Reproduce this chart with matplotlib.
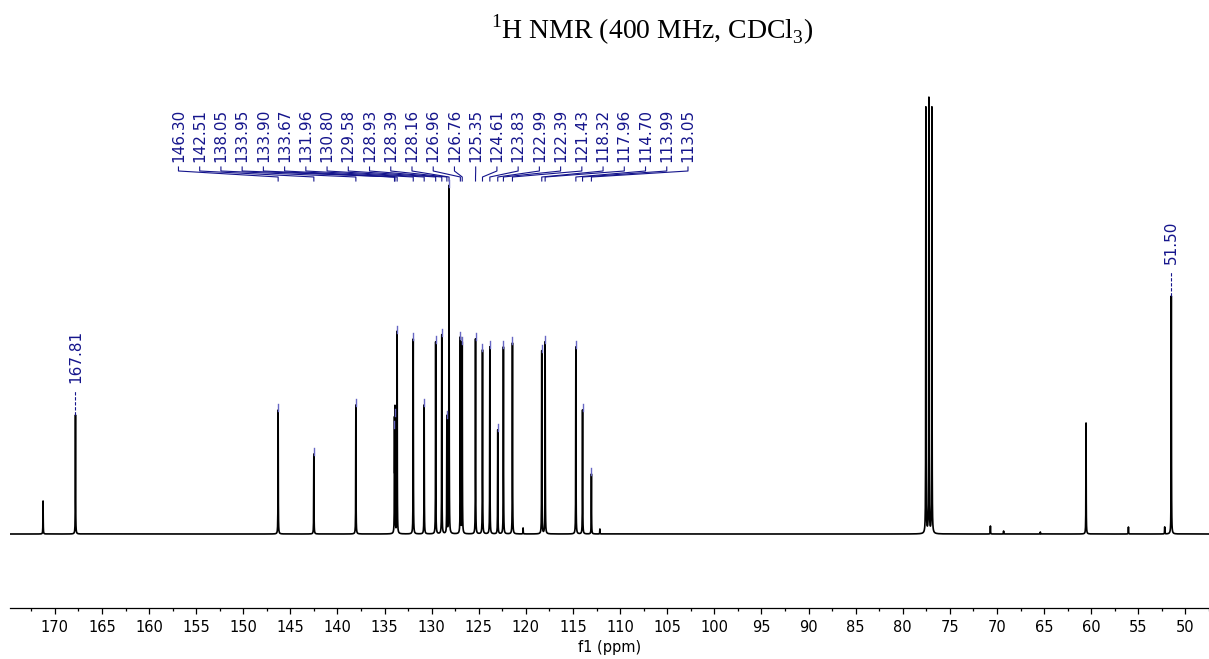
import numpy as np
import matplotlib.pyplot as plt

plt.rcParams['mathtext.fontset'] = 'custom'
plt.rcParams['mathtext.rm'] = 'Liberation Serif'

# peaks: shift (ppm) and height (px above baseline)
shifts = [171.25, 167.81, 146.30, 142.51, 138.05, 133.95, 133.90, 133.67, 131.96,
          130.80, 129.58, 128.93, 128.39, 128.16, 126.96, 126.76, 125.35, 124.61,
          123.83, 122.99, 122.39, 121.43, 120.30, 118.32, 117.96, 114.70, 113.99,
          113.05, 112.15, 77.55, 77.23, 76.91, 70.70, 69.30, 65.40, 60.55, 56.05,
          52.20, 51.50]
heights = [33, 119, 124, 80, 129, 107, 119, 202, 195,
           129, 192, 199, 117, 348, 196, 191, 195, 184,
           187, 104, 187, 191, 6, 183, 192, 187, 124,
           60, 5, 426, 435, 426, 8, 3, 2, 111, 7,
           7, 238]

group_labels = ['146.30', '142.51', '138.05', '133.95', '133.90', '133.67', '131.96',
                '130.80', '129.58', '128.93', '128.39', '128.16', '126.96', '126.76',
                '125.35', '124.61', '123.83', '122.99', '122.39', '121.43', '118.32',
                '117.96', '114.70', '113.99', '113.05']
single_labels = ['167.81', '51.50']

navy = '#15158c'
marker_blue = '#6767c4'

height_of = dict(zip(shifts, heights))

grid = np.sort(np.concatenate([np.linspace(47.0, 175.5, 30000), shifts]))
hw = 0.015
spec = np.zeros_like(grid)
for s, h in zip(shifts, heights):
    spec += h / (1 + ((grid - s) / hw) ** 2)

fig = plt.figure(figsize=(12.09, 6.59), dpi=100)
ax = fig.add_axes([10/1209, 51/659, 1199/1209, 513/659])
ax.plot(grid, spec, color='black', lw=1.2)

ax.set_xlim(174.76, 47.88)
ax.set_ylim(-74, 439)

for sp in ['top', 'left', 'right']:
    ax.spines[sp].set_visible(False)
ax.spines['bottom'].set_linewidth(0.9)
ax.set_yticks([])
ax.set_xticks(np.arange(50, 171, 5))
ax.set_xticks(np.arange(47.5, 175, 2.5), minor=True)
ax.tick_params(axis='x', which='major', length=4.5, width=0.9, labelsize=10.5, pad=4.5)
ax.tick_params(axis='x', which='minor', length=2, width=0.9)
ax.set_xlabel('f1 (ppm)', fontsize=10.5, labelpad=3)

# grouped labels with connector lines
lab_x = np.linspace(156.88, 102.8, len(group_labels))
for lx, txt in zip(lab_x, group_labels):
    p = float(txt)
    h = height_of[p]
    ax.text(lx, 372, txt, rotation=90, ha='center', va='bottom', color=navy, fontsize=11)
    ax.plot([lx, lx, p, p], [367, 363, 357, 353], color=navy, lw=0.8)
    ax.plot([p, p], [h - 1, h + 6], color=marker_blue, lw=1.0)

# single labels with dashed leaders
for txt in single_labels:
    p = float(txt)
    h = height_of[p]
    ax.text(p, h + 32, txt, rotation=90, ha='center', va='bottom', color=navy, fontsize=11)
    ax.plot([p, p], [h, h + 25], color=navy, lw=0.8, ls=(0, (3, 1.5)))

fig.text(652/1209, 1 - 30/659, r'$^{1}$H NMR (400 MHz, CDCl$_{3}$)',
         ha='center', va='center', fontsize=20, family='Liberation Serif')

plt.savefig('out.png', dpi=100)
